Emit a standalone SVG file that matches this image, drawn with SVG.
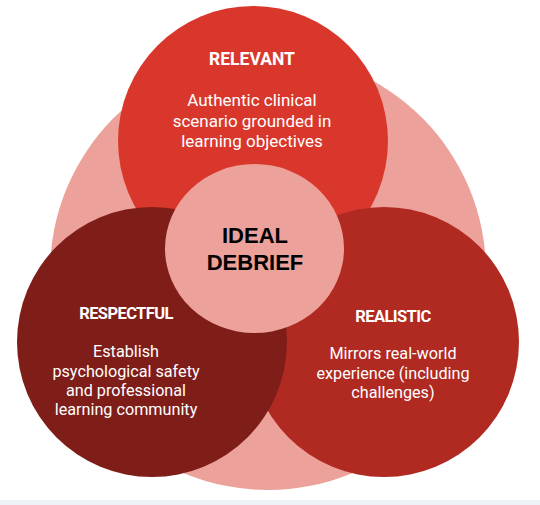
<svg xmlns="http://www.w3.org/2000/svg" width="540" height="505" viewBox="0 0 540 505">
<style>
.title{font-family:Roboto,"Liberation Sans",sans-serif;font-weight:bold;font-size:17.5px;fill:#fff;text-anchor:middle}
.title2{font-family:Roboto,"Liberation Sans",sans-serif;font-weight:bold;font-size:16.5px;fill:#fff;text-anchor:middle;letter-spacing:-0.6px}
.body{font-family:Roboto,"Liberation Sans",sans-serif;font-size:17px;fill:#fff;text-anchor:middle}
.body2{font-family:Roboto,"Liberation Sans",sans-serif;font-size:16.2px;fill:#fff;text-anchor:middle}
.center{font-family:"Liberation Sans",Arial,sans-serif;font-weight:bold;font-size:22px;fill:#000;text-anchor:middle}
</style>
<rect x="0" y="0" width="540" height="505" fill="#fff"/>
<rect x="0" y="500" width="540" height="5" fill="#eef2f8"/>
<g id="background"><circle cx="268" cy="272" r="218" fill="#eca29a"/></g>
<g id="connectors"></g>
<g id="relevant">
<circle cx="253" cy="141" r="135" fill="#d9372b"/>
<text class="title" x="252" y="65">RELEVANT</text>
<text class="body" x="252" y="106">Authentic clinical</text>
<text class="body" x="252" y="126.5">scenario grounded in</text>
<text class="body" x="252" y="147">learning objectives</text>
</g>
<g id="realistic">
<circle cx="384" cy="342" r="135" fill="#b02a22"/>
<text class="title2" x="393" y="322">REALISTIC</text>
<text class="body2" x="393" y="359">Mirrors real-world</text>
<text class="body2" x="393" y="378.5">experience (including</text>
<text class="body2" x="393" y="398">challenges)</text>
</g>
<g id="respectful">
<circle cx="152" cy="342" r="135" fill="#7f1d19"/>
<text class="title2" x="126" y="319">RESPECTFUL</text>
<text class="body2" x="126" y="357">Establish</text>
<text class="body2" x="126" y="376.5">psychological safety</text>
<text class="body2" x="126" y="396">and professional</text>
<text class="body2" x="126" y="415">learning community</text>
</g>
<g id="ideal-debrief">
<ellipse cx="254.5" cy="248.5" rx="89.5" ry="84.5" fill="#eca29a"/>
<text class="center" x="255" y="243">IDEAL</text>
<text class="center" x="255" y="270">DEBRIEF</text>
</g>
</svg>
